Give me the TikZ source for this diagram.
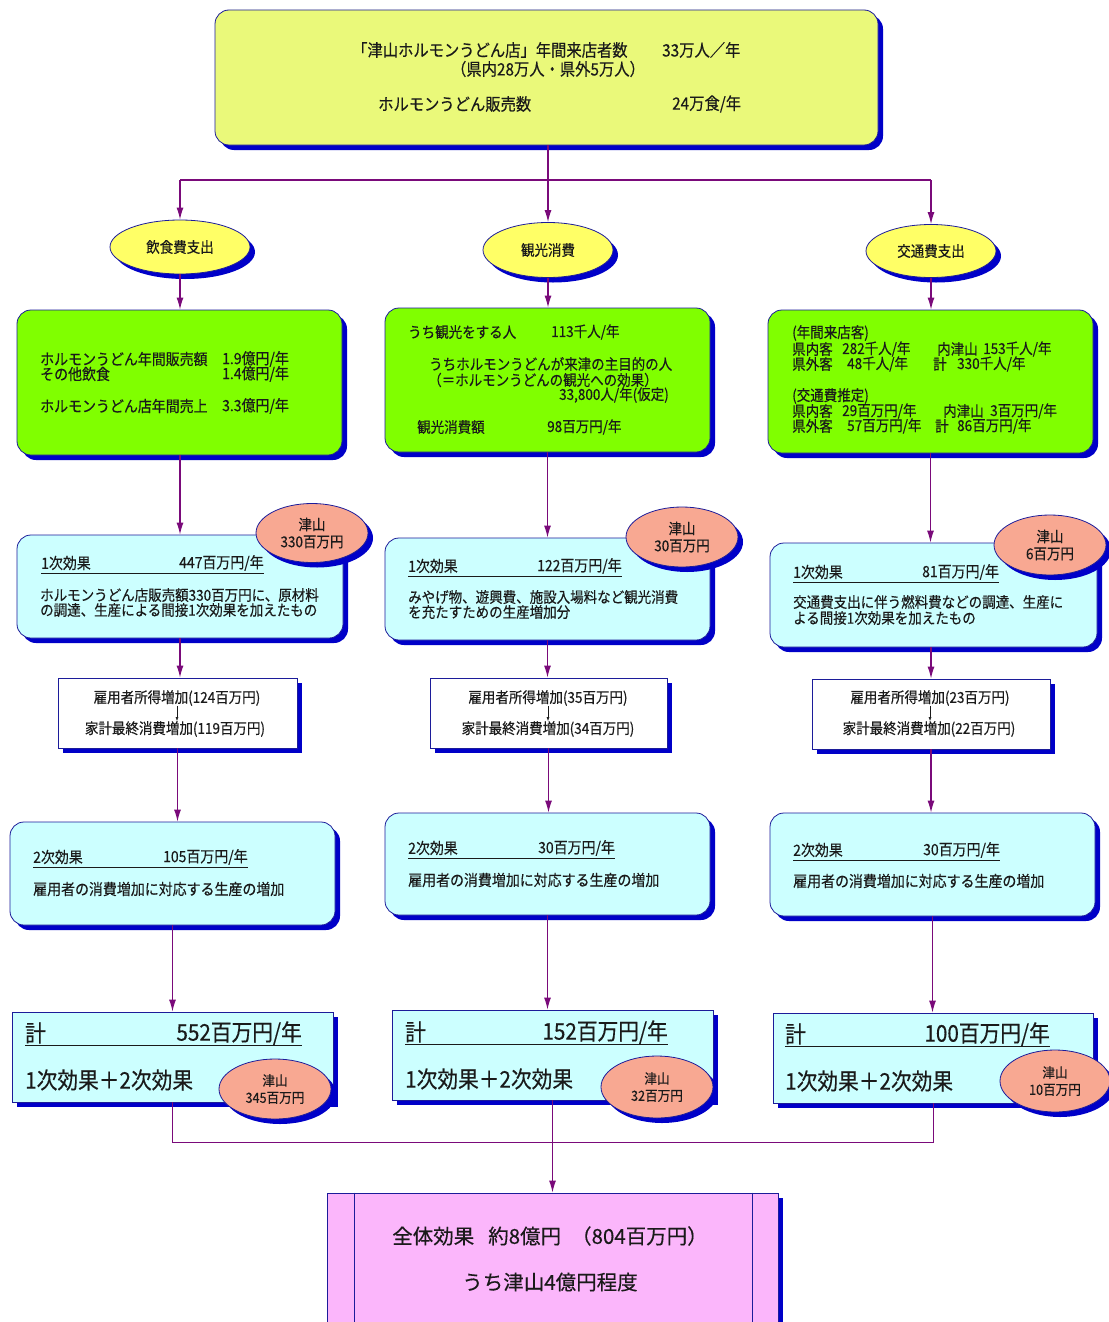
\documentclass[tikz,border=0pt]{standalone}
\usepackage{fontspec}
\setmainfont{Noto Sans CJK JP}[FakeStretch=0.9, FakeBold=0.35]
\newfontfamily\widefont{Noto Sans CJK JP}[FakeBold=0.3]
\usetikzlibrary{shapes.geometric,arrows.meta,shadows}

\definecolor{topc}{HTML}{EAF97A}
\definecolor{ellc}{HTML}{FFFF66}
\definecolor{greenc}{HTML}{80FF00}
\definecolor{cyanc}{HTML}{CCFFFF}
\definecolor{salmonc}{HTML}{F8A892}
\definecolor{pinkc}{HTML}{FBB6FB}
\definecolor{shadowc}{HTML}{0000C8}
\definecolor{bordc}{HTML}{1C1C9A}
\definecolor{connc}{HTML}{7A0A7A}
\definecolor{textc}{HTML}{1A1A1A}

\newcommand{\fsz}[1]{\fontsize{#1}{#1}\selectfont}

\begin{document}
\begin{tikzpicture}[x=1pt,y=-1pt,
  blueshadow/.style={general shadow={fill=shadowc, shadow xshift=5pt, shadow yshift=-5pt}},
  boxbase/.style={draw=bordc, line width=0.8pt, inner sep=0pt, blueshadow},
  roundbox/.style={boxbase, rounded corners=14pt},
  topbox/.style={roundbox, fill=topc},
  greenbox/.style={roundbox, fill=greenc},
  cyanbox/.style={roundbox, fill=cyanc},
  sqcyan/.style={boxbase, fill=cyanc},
  whitebox/.style={boxbase, fill=white},
  pinkbox/.style={boxbase, fill=pinkc},
  yell/.style={ellipse, draw=bordc, line width=0.8pt, fill=ellc, inner sep=0pt, blueshadow},
  salm/.style={ellipse, draw=bordc, line width=0.8pt, fill=salmonc, inner sep=0pt, blueshadow},
  txt/.style={inner sep=0pt, text=textc, font=\fsz{15}, anchor=west},
  txtm/.style={txt, font=\fsz{15.5}},
  txtc/.style={txt, anchor=center},
  big/.style={txt, font=\fsz{23}},
  topt/.style={txt, font=\fsz{17}},
  conn/.style={draw=connc, line width=1.2pt},
  arr/.style={conn, -{Latex[length=12pt,width=7pt]}},
  uline/.style={draw=textc, line width=0.8pt},
  smallarr/.style={draw=textc, line width=0.5pt, -{Latex[length=4pt,width=3pt]}}
]
\useasboundingbox[fill=white] (0,0) rectangle (1108,1322);

% ---------- header ----------
\node[topbox, minimum width=663pt, minimum height=135pt] (top) at (546.5,77.5) {};
\node[topt] (top1) at (352,50) {「津山ホルモンうどん店」年間来店者数};
\node[topt] (top1v) at (662,50) {33万人／年};
\node[topt, anchor=center] (top2) at (548,69) {（県内28万人・県外5万人）};
\node[topt] (top3) at (378,104) {ホルモンうどん販売数};
\node[topt] (top3v) at (672,104) {24万食/年};

% ---------- spending categories ----------
\node[yell, minimum width=140pt, minimum height=54pt] (e1) at (180,247) {};
\node[txtc] at (e1) {飲食費支出};
\node[yell, minimum width=130pt, minimum height=55pt] (e2) at (548,250) {};
\node[txtc] at (e2) {観光消費};
\node[yell, minimum width=130pt, minimum height=53pt] (e3) at (931,251) {};
\node[txtc] at (e3) {交通費支出};

\coordinate (jl) at (180,180);
\coordinate (jr) at (931,180);
\draw[conn] (jl) -- (jr);
\draw[arr] (top.south -| e2.north) -- (e2.north);
\draw[arr] (jl) -- (e1.north);
\draw[arr] (jr) -- (e3.north);

% ---------- green detail boxes ----------
\node[greenbox, minimum width=325pt, minimum height=145pt] (g1) at (179.5,382.5) {};
\node[txtm] at (40,359) {ホルモンうどん年間販売額};
\node[txtm] at (222,359) {1.9億円/年};
\node[txtm] at (40,374) {その他飲食};
\node[txtm] at (222,374) {1.4億円/年};
\node[txtm] at (40,406) {ホルモンうどん店年間売上};
\node[txtm] at (222,406) {3.3億円/年};

\node[greenbox, minimum width=325pt, minimum height=144pt] (g2) at (547.5,380) {};
\node[txt] at (408,332) {うち観光をする人};
\node[txt] at (551,332) {113千人/年};
\node[txt] at (429,364) {うちホルモンうどんが来津の主目的の人};
\node[txt] at (428,380) {（＝ホルモンうどんの観光への効果）};
\node[txt, anchor=east] at (669,395) {33,800人/年(仮定)};
\node[txt] at (417,427) {観光消費額};
\node[txt] at (547,427) {98百万円/年};

\node[greenbox, minimum width=325pt, minimum height=143pt] (g3) at (930.5,381.5) {};
\node[txt] at (792,333) {(年間来店客)};
\node[txt] at (792,349) {県内客};
\node[txt] at (842,349) {282千人/年};
\node[txt] at (937,349) {内津山};
\node[txt] at (983,349) {153千人/年};
\node[txt] at (792,364) {県外客};
\node[txt] at (847,364) {48千人/年};
\node[txt] at (933,364) {計};
\node[txt] at (957,364) {330千人/年};
\node[txt] at (792,396) {(交通費推定)};
\node[txt] at (792,411) {県内客};
\node[txt] at (842,411) {29百万円/年};
\node[txt] at (943,411) {内津山};
\node[txt] at (990,411) {3百万円/年};
\node[txt] at (792,426) {県外客};
\node[txt] at (847,426) {57百万円/年};
\node[txt] at (935,426) {計};
\node[txt] at (957,426) {86百万円/年};

\draw[arr] (e1.south) -- (e1.south |- g1.north);
\draw[arr] (e2.south) -- (e2.south |- g2.north);
\draw[arr] (e3.south) -- (e3.south |- g3.north);

% ---------- first-round effect ----------
\node[cyanbox, minimum width=326pt, minimum height=103pt] (f1) at (180,586.5) {};
\node[txtm] (f1h) at (41,563) {1次効果};
\node[txtm] (f1v) at (179,563) {447百万円/年};
\draw[uline] ([yshift=-3pt]f1h.south west) -- ([yshift=-3pt]f1h.south west -| f1v.east);
\node[txt] at (40,595) {ホルモンうどん店販売額330百万円に、原材料};
\node[txt] at (40,610) {の調達、生産による間接1次効果を加えたもの};

\node[cyanbox, minimum width=325pt, minimum height=102pt] (f2) at (547.5,589) {};
\node[txtm] (f2h) at (408,566) {1次効果};
\node[txtm] (f2v) at (537,566) {122百万円/年};
\draw[uline] ([yshift=-3pt]f2h.south west) -- ([yshift=-3pt]f2h.south west -| f2v.east);
\node[txt] at (408,597) {みやげ物、遊興費、施設入場料など観光消費};
\node[txt] at (408,612) {を充たすための生産増加分};

\node[cyanbox, minimum width=327pt, minimum height=104pt] (f3) at (933.5,595) {};
\node[txtm] (f3h) at (793,572) {1次効果};
\node[txtm] (f3v) at (922,572) {81百万円/年};
\draw[uline] ([yshift=-3pt]f3h.south west) -- ([yshift=-3pt]f3h.south west -| f3v.east);
\node[txt] at (793,602) {交通費支出に伴う燃料費などの調達、生産に};
\node[txt] at (793,618) {よる間接1次効果を加えたもの};

\draw[arr] (g1.south -| f1.north) -- (f1.north);
\draw[arr] (g2.south) -- (g2.south |- f2.north);
\draw[arr] (g3.south) -- (g3.south |- f3.north);

% Tsuyama share of the first-round effect
\node[salm, minimum width=112pt, minimum height=59pt] (s1) at (312,533) {};
\node[txtc, align=center, font=\fontsize{15}{17}\selectfont] at (s1) {津山\\330百万円};
\node[salm, minimum width=112pt, minimum height=60pt] (s2) at (682,537) {};
\node[txtc, align=center, font=\fontsize{15}{17}\selectfont] at (s2) {津山\\30百万円};
\node[salm, minimum width=112pt, minimum height=60pt] (s3) at (1050,545) {};
\node[txtc, align=center, font=\fontsize{15}{17}\selectfont] at (s3) {津山\\6百万円};

% ---------- income / consumption ----------
\node[whitebox, minimum width=239pt, minimum height=70pt] (i1) at (177.5,713) {};
\node[txtc] (i1a) at (177,698) {雇用者所得増加(124百万円)};
\node[txtc] (i1b) at (175,729) {家計最終消費増加(119百万円)};
\draw[smallarr] (i1a.south) -- (i1a.south |- i1b.north);

\node[whitebox, minimum width=237pt, minimum height=70pt] (i2) at (548.5,713) {};
\node[txtc] (i2a) at (548,698) {雇用者所得増加(35百万円)};
\node[txtc] (i2b) at (548,729) {家計最終消費増加(34百万円)};
\draw[smallarr] (i2a.south) -- (i2a.south |- i2b.north);

\node[whitebox, minimum width=238pt, minimum height=70pt] (i3) at (931,714) {};
\node[txtc] (i3a) at (930,698) {雇用者所得増加(23百万円)};
\node[txtc] (i3b) at (929,729) {家計最終消費増加(22百万円)};
\draw[smallarr] (i3a.south) -- (i3a.south |- i3b.north);

\draw[arr] (f1.south) -- (f1.south |- i1.north);
\draw[arr] (f2.south) -- (f2.south |- i2.north);
\draw[arr] (f3.south -| i3.north) -- (i3.north);

% ---------- second-round effect ----------
\node[cyanbox, minimum width=325pt, minimum height=103pt] (n1) at (172.5,873.5) {};
\node[txtm] (n1h) at (33,857) {2次効果};
\node[txtm] (n1v) at (163,857) {105百万円/年};
\draw[uline] ([yshift=-3pt]n1h.south west) -- ([yshift=-3pt]n1h.south west -| n1v.east);
\node[txtm] at (33,889) {雇用者の消費増加に対応する生産の増加};

\node[cyanbox, minimum width=325pt, minimum height=102pt] (n2) at (547.5,864) {};
\node[txtm] (n2h) at (408,848) {2次効果};
\node[txtm] (n2v) at (538,848) {30百万円/年};
\draw[uline] ([yshift=-3pt]n2h.south west) -- ([yshift=-3pt]n2h.south west -| n2v.east);
\node[txtm] at (408,880) {雇用者の消費増加に対応する生産の増加};

\node[cyanbox, minimum width=325pt, minimum height=103pt] (n3) at (932.5,864.5) {};
\node[txtm] (n3h) at (793,850) {2次効果};
\node[txtm] (n3v) at (923,850) {30百万円/年};
\draw[uline] ([yshift=-3pt]n3h.south west) -- ([yshift=-3pt]n3h.south west -| n3v.east);
\node[txtm] at (793,881) {雇用者の消費増加に対応する生産の増加};

\draw[arr] (i1.south) -- (i1.south |- n1.north);
\draw[arr] (i2.south) -- (i2.south |- n2.north);
\draw[arr] (i3.south) -- (i3.south |- n3.north);

% ---------- totals ----------
\node[sqcyan, minimum width=321pt, minimum height=90pt] (t1) at (172.5,1057) {};
\node[big] (t1h) at (25,1033) {計};
\node[big, anchor=east] (t1v) at (302,1033) {552百万円/年};
\draw[uline] ([yshift=-2pt]t1h.south west) -- ([yshift=-2pt]t1h.south west -| t1v.east);
\node[big] at (25,1080) {1次効果＋2次効果};

\node[sqcyan, minimum width=321pt, minimum height=90pt] (t2) at (552.5,1055) {};
\node[big] (t2h) at (405,1032) {計};
\node[big, anchor=east] (t2v) at (668,1032) {152百万円/年};
\draw[uline] ([yshift=-2pt]t2h.south west) -- ([yshift=-2pt]t2h.south west -| t2v.east);
\node[big] at (405,1079) {1次効果＋2次効果};

\node[sqcyan, minimum width=320pt, minimum height=90pt] (t3) at (933,1058) {};
\node[big] (t3h) at (785,1034) {計};
\node[big, anchor=east] (t3v) at (1050,1034) {100百万円/年};
\draw[uline] ([yshift=-2pt]t3h.south west) -- ([yshift=-2pt]t3h.south west -| t3v.east);
\node[big] at (785,1081) {1次効果＋2次効果};

\draw[arr] (n1.south) -- (n1.south |- t1.north);
\draw[arr] (n2.south) -- (n2.south |- t2.north);
\draw[arr] (n3.south) -- (n3.south |- t3.north);

% Tsuyama share of the totals
\node[salm, minimum width=112pt, minimum height=60pt] (c1) at (275,1089) {};
\node[txtc, align=center, font=\fontsize{14}{17}\selectfont] at (c1) {津山\\345百万円};
\node[salm, minimum width=112pt, minimum height=62pt] (c2) at (657,1087) {};
\node[txtc, align=center, font=\fontsize{14}{17}\selectfont] at (c2) {津山\\32百万円};
\node[salm, minimum width=110pt, minimum height=62pt] (c3) at (1055,1081) {};
\node[txtc, align=center, font=\fontsize{14}{17}\selectfont] at (c3) {津山\\10百万円};

% ---------- overall effect ----------
\node[pinkbox, minimum width=451pt, minimum height=150pt] (all) at (552.5,1268) {};
\draw[draw=bordc, line width=0.8pt] ([xshift=28pt]all.north west) -- ([xshift=28pt]all.south west);
\draw[draw=bordc, line width=0.8pt] ([xshift=-26pt]all.north east) -- ([xshift=-26pt]all.south east);
\node[txtc, font=\widefont\fsz{20.5}] at (550,1236) {全体効果\hspace{14pt}約8億円\hspace{10pt}（804百万円）};
\node[txtc, font=\widefont\fsz{20.5}] at (550,1282) {うち津山4億円程度};

\coordinate (jb) at (552.5,1142);
\draw[conn, line width=0.8pt] (t1.south) -- (t1.south |- jb) -- (t3.south |- jb) -- (t3.south);
\draw[arr] (t2.south) -- (all.north);
\end{tikzpicture}
\end{document}
